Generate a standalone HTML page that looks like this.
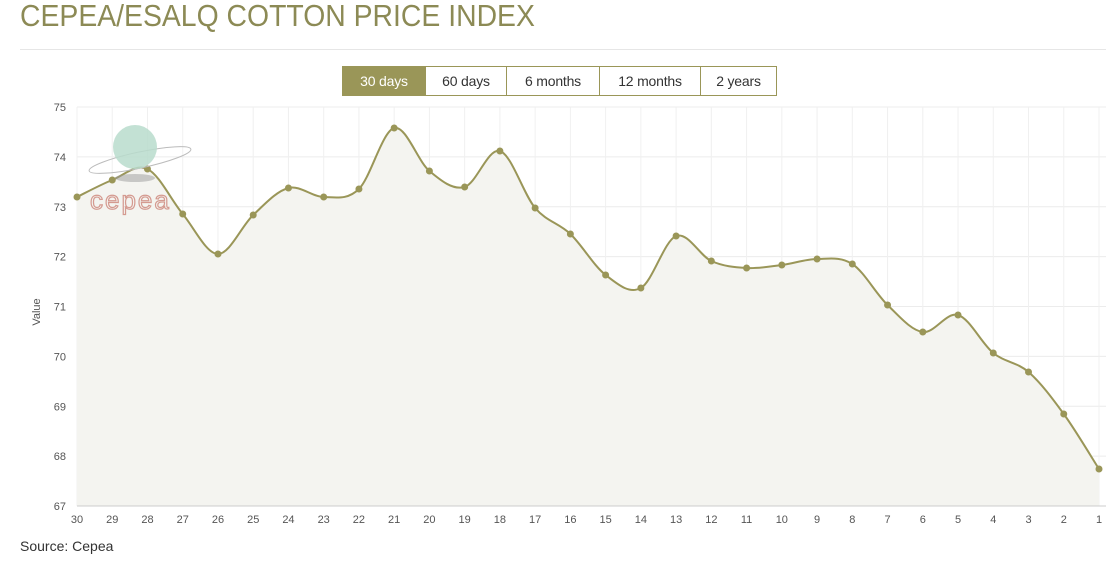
<!DOCTYPE html>
<html><head><meta charset="utf-8"><style>
body{margin:0;width:1106px;height:563px;background:#fff;font-family:"Liberation Sans",sans-serif;overflow:hidden;position:relative}
.title{position:absolute;left:20px;top:-2px;font-size:31px;color:#8c8a55;transform:scaleX(0.915);transform-origin:0 0;white-space:nowrap}
.hr{position:absolute;left:20px;top:49px;width:1086px;height:1px;background:#e6e6e6}
.btns{position:absolute;left:342px;top:66px;display:flex;border:1px solid #9a9658;height:28px}
.btns div{font-size:14px;color:#333;line-height:28px;text-align:center;border-left:1px solid #9a9658;box-sizing:border-box;letter-spacing:-0.2px}
.btns div:first-child{border-left:none;background:#9a9658;color:#fff}
.src{position:absolute;left:20px;top:538px;font-size:14px;color:#333}
</style></head><body>
<div class="title">CEPEA/ESALQ COTTON PRICE INDEX</div>
<div class="hr"></div>
<div class="btns"><div style="width:82px">30 days</div><div style="width:81px">60 days</div><div style="width:93px">6 months</div><div style="width:101px">12 months</div><div style="width:76px">2 years</div></div>
<svg id="c" width="1106" height="563" style="position:absolute;left:0;top:0"></svg>
<div class="src">Source: Cepea</div>
<script>
var ys=[197,180,169,214,254,215,188,197,189,128,171,187,151,208,234,275,288,236,261,268,265,259,264,305,332,315,353,372,414,469];
var x0=77,x1=1099,dx=(x1-x0)/29,s='';
for(var v=75;v>=67;v--){var y=107+(75-v)*49.875;s+='<line x1="77" x2="1106" y1="'+y+'" y2="'+y+'" stroke="#ececec"/>';s+='<text x="66" y="'+(y+4)+'" font-size="11" fill="#555" text-anchor="end" font-family="Liberation Sans">'+v+'</text>';}
for(var i=0;i<30;i++){var x=x0+i*dx;s+='<line x1="'+x+'" x2="'+x+'" y1="107" y2="506" stroke="#f0f0f0"/>';s+='<text x="'+x+'" y="523" font-size="11" fill="#555" text-anchor="middle" font-family="Liberation Sans">'+(30-i)+'</text>';}
s+='<text transform="translate(40,312) rotate(-90)" font-size="11" fill="#555" text-anchor="middle" font-family="Liberation Sans">Value</text>';
var P=ys.map(function(y,i){return[x0+i*dx,y]});
var d='M'+P[0][0]+','+P[0][1];
for(var i=0;i<29;i++){var p0=P[Math.max(i-1,0)],p1=P[i],p2=P[i+1],p3=P[Math.min(i+2,29)];var k=1/6;
d+=' C'+(p1[0]+(p2[0]-p0[0])*k)+','+(p1[1]+(p2[1]-p0[1])*k)+' '+(p2[0]-(p3[0]-p1[0])*k)+','+(p2[1]-(p3[1]-p1[1])*k)+' '+p2[0]+','+p2[1];}
s+='<path d="'+d+' L'+x1+',506 L'+x0+',506 Z" fill="#f4f4f0"/>';
s+='<path d="'+d+'" fill="none" stroke="#9a9658" stroke-width="2"/>';
P.forEach(function(p){s+='<circle cx="'+p[0]+'" cy="'+p[1]+'" r="3.5" fill="#9a9658"/>'});
s+='<line x1="77" x2="1106" y1="506" y2="506" stroke="#ccc"/>';
s+='<ellipse cx="140" cy="160" rx="52" ry="8" fill="none" stroke="#bbb" transform="rotate(-12 140 160)"/><circle cx="135" cy="147" r="22" fill="#b8dccd" opacity="0.85"/><ellipse cx="135" cy="178" rx="20" ry="4" fill="#999" opacity="0.5"/>';
s+='<text x="90" y="209" font-size="26" fill="none" stroke="#d49a90" stroke-width="1.2" font-family="Liberation Sans" letter-spacing="2">cepea</text>';
document.getElementById('c').innerHTML=s;
</script>
</body></html>
